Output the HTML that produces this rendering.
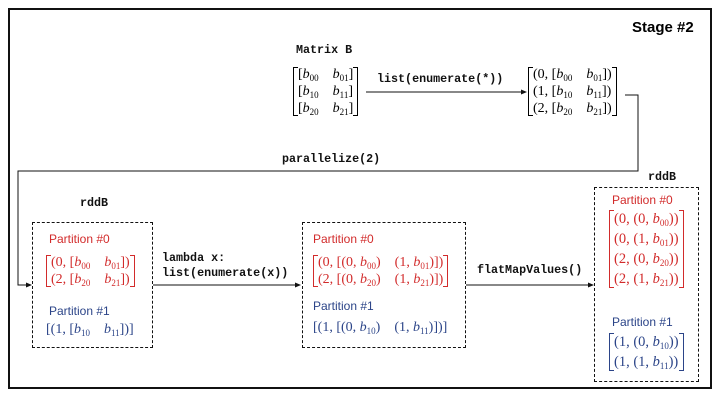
<!DOCTYPE html>
<html><head><meta charset="utf-8"><style>
body{margin:0;width:720px;height:405px;background:#fff;position:relative;overflow:hidden;font-family:"Liberation Sans",sans-serif}
.a{position:absolute;white-space:nowrap}
.code{font-family:"Liberation Mono",monospace;font-weight:bold;font-size:11.7px;color:#111}
.part{font-size:12px}
.red{color:#d22b2b}.blue{color:#2b4488}
.mat{position:absolute;display:inline-block;font-family:"Liberation Serif",serif;font-size:14px;line-height:17px;padding:0 5px;white-space:nowrap}
.mat:before,.mat:after{content:"";position:absolute;top:1px;bottom:1px;width:4px;border:1.3px solid currentColor}
.mat:before{left:0;border-right:none}.mat:after{right:0;border-left:none}
sub{font-size:9px;line-height:0;vertical-align:-3px;font-style:normal}
.box{position:absolute;border:1.2px dashed #111}
</style></head><body>
<div class="a" style="left:8px;top:8px;width:700px;height:377px;border:2px solid #111"></div>
<div class="a" style="left:632px;top:19px;font-weight:bold;font-size:15px">Stage #2</div>

<svg class="a" style="left:0;top:0" width="720" height="405">
<defs><marker id="ar" markerWidth="6" markerHeight="6" refX="5" refY="3" orient="auto"><path d="M0,0.5 L6,3 L0,5.5z" fill="#111"/></marker></defs>
<line x1="366" y1="92" x2="526" y2="92" stroke="#111" marker-end="url(#ar)"/>
<polyline points="625,95 638,95 638,171 18,171 18,285 31,285" fill="none" stroke="#111" marker-end="url(#ar)"/>
<line x1="153" y1="285" x2="300" y2="285" stroke="#111" marker-end="url(#ar)"/>
<line x1="466" y1="285" x2="593" y2="285" stroke="#111" marker-end="url(#ar)"/>
</svg>

<div class="a code" style="left:296px;top:43px">Matrix B</div>
<div class="mat" style="left:293px;top:66px">[<i>b<sub>00</sub></i>&nbsp;&nbsp;&nbsp;&nbsp;<i>b<sub>01</sub></i>]<br>[<i>b<sub>10</sub></i>&nbsp;&nbsp;&nbsp;&nbsp;<i>b<sub>11</sub></i>]<br>[<i>b<sub>20</sub></i>&nbsp;&nbsp;&nbsp;&nbsp;<i>b<sub>21</sub></i>]</div>
<div class="a code" style="left:377px;top:72px">list(enumerate(*))</div>
<div class="mat" style="left:528px;top:66px">(0, [<i>b<sub>00</sub></i>&nbsp;&nbsp;&nbsp;&nbsp;<i>b<sub>01</sub></i>])<br>(1, [<i>b<sub>10</sub></i>&nbsp;&nbsp;&nbsp;&nbsp;<i>b<sub>11</sub></i>])<br>(2, [<i>b<sub>20</sub></i>&nbsp;&nbsp;&nbsp;&nbsp;<i>b<sub>21</sub></i>])</div>
<div class="a code" style="left:282px;top:152px">parallelize(2)</div>

<div class="a code" style="left:80px;top:196px">rddB</div>
<div class="box" style="left:32px;top:222px;width:119px;height:124px"></div>
<div class="a part red" style="left:49px;top:232px">Partition #0</div>
<div class="mat red" style="left:46px;top:254px">(0, [<i>b<sub>00</sub></i>&nbsp;&nbsp;&nbsp;&nbsp;<i>b<sub>01</sub></i>])<br>(2, [<i>b<sub>20</sub></i>&nbsp;&nbsp;&nbsp;&nbsp;<i>b<sub>21</sub></i>])</div>
<div class="a part blue" style="left:49px;top:304px">Partition #1</div>
<div class="a blue" style="left:46px;top:322px;font-family:'Liberation Serif',serif;font-size:14px">[(1, [<i>b<sub>10</sub></i>&nbsp;&nbsp;&nbsp;&nbsp;<i>b<sub>11</sub></i>])]</div>

<div class="a code" style="left:162px;top:251px;line-height:15px">lambda x:<br>list(enumerate(x))</div>

<div class="box" style="left:302px;top:222px;width:162px;height:124px"></div>
<div class="a part red" style="left:313px;top:232px">Partition #0</div>
<div class="mat red" style="left:313px;top:254px">(0, [(0, <i>b<sub>00</sub></i>)&nbsp;&nbsp;&nbsp;&nbsp;(1, <i>b<sub>01</sub></i>)])<br>(2, [(0, <i>b<sub>20</sub></i>)&nbsp;&nbsp;&nbsp;&nbsp;(1, <i>b<sub>21</sub></i>)])</div>
<div class="a part blue" style="left:313px;top:299px">Partition #1</div>
<div class="a blue" style="left:313px;top:320px;font-family:'Liberation Serif',serif;font-size:14px">[(1, [(0, <i>b<sub>10</sub></i>)&nbsp;&nbsp;&nbsp;&nbsp;(1, <i>b<sub>11</sub></i>)])]</div>

<div class="a code" style="left:477px;top:263px">flatMapValues()</div>

<div class="a code" style="left:648px;top:170px">rddB</div>
<div class="box" style="left:594px;top:187px;width:103px;height:193px"></div>
<div class="a part red" style="left:612px;top:193px">Partition #0</div>
<div class="mat red" style="left:609px;top:209px;line-height:20px;font-size:14.5px">(0, (0, <i>b<sub>00</sub></i>))<br>(0, (1, <i>b<sub>01</sub></i>))<br>(2, (0, <i>b<sub>20</sub></i>))<br>(2, (1, <i>b<sub>21</sub></i>))</div>
<div class="a part blue" style="left:612px;top:315px">Partition #1</div>
<div class="mat blue" style="left:609px;top:332px;line-height:20px;font-size:14.5px">(1, (0, <i>b<sub>10</sub></i>))<br>(1, (1, <i>b<sub>11</sub></i>))</div>
</body></html>
